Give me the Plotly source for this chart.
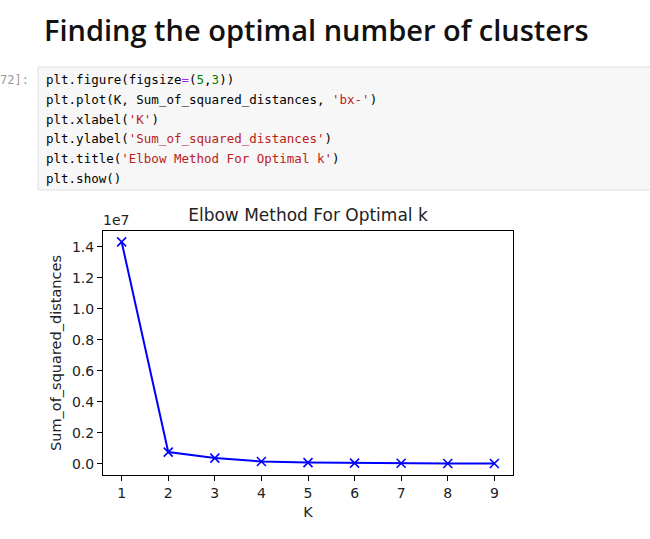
import plotly.graph_objects as go

K = [1, 2, 3, 4, 5, 6, 7, 8, 9]
Sum_of_squared_distances = [14320000, 760000, 370000, 150000, 80000, 50000, 35000, 25000, 20000]
y_tick_vals = [0, 2e6, 4e6, 6e6, 8e6, 10e6, 12e6, 14e6]
y_tick_text = ["0.0", "0.2", "0.4", "0.6", "0.8", "1.0", "1.2", "1.4"]

heading = "Finding the optimal number of clusters"
prompt = "72]:"
code_lines = [
    'plt.figure(figsize<span style="color:#aa22ff">=</span>(<span style="color:#008000">5</span>,<span style="color:#008000">3</span>))',
    'plt.plot(K, Sum_of_squared_distances, <span style="color:#ba2121">\'bx-\'</span>)',
    'plt.xlabel(<span style="color:#ba2121">\'K\'</span>)',
    'plt.ylabel(<span style="color:#ba2121">\'Sum_of_squared_distances\'</span>)',
    'plt.title(<span style="color:#ba2121">\'Elbow Method For Optimal k\'</span>)',
    'plt.show()',
]

W, H = 650, 539
L, R, T, B = 103, 513, 231, 475


def px(x):
    return (x - L) / (R - L)


def py(y):
    return (B - y) / (B - T)


fig = go.Figure()
fig.add_trace(go.Scatter(
    x=K, y=Sum_of_squared_distances, mode="lines+markers",
    line=dict(color="#0000ff", width=2),
    marker=dict(symbol="x-thin", size=9, line=dict(color="#0000ff", width=1.6)),
    showlegend=False,
))

axis_common = dict(
    showline=True, mirror=True, linecolor="black", linewidth=1,
    ticks="outside", ticklen=5, tickwidth=1, tickcolor="black",
    showgrid=False, zeroline=False,
    tickfont=dict(family="DejaVu Sans", size=14, color="#222"),
)

fig.update_layout(
    width=W, height=H,
    margin=dict(l=L, r=W - R, t=T, b=H - B),
    paper_bgcolor="white", plot_bgcolor="white",
    font=dict(family="DejaVu Sans", color="#222"),
    title=dict(text="Elbow Method For Optimal k", x=0.5, xref="paper",
               xanchor="center", y=1 - 215 / H, yanchor="middle", yref="container",
               font=dict(family="DejaVu Sans", size=17, color="#222")),
    xaxis=dict(range=[0.6, 9.4], tickvals=K, ticktext=[str(k) for k in K],
               title=dict(text="K", font=dict(size=14.5), standoff=7), **axis_common),
    yaxis=dict(range=[-0.072e7, 1.502e7], tickvals=y_tick_vals, ticktext=y_tick_text,
               title=dict(text="Sum_of_squared_distances", font=dict(size=14.5), standoff=6),
               **axis_common),
)

# code cell background
fig.add_shape(type="rect", xref="paper", yref="paper",
              x0=px(38), x1=px(652), y0=py(67), y1=py(190),
              fillcolor="#f7f7f7", line=dict(color="#e0e0e0", width=1), layer="below")

# heading
fig.add_annotation(text=heading, xref="paper", yref="paper", x=px(42), y=py(29),
                   xanchor="left", yanchor="middle", showarrow=False,
                   font=dict(family="Open Sans", size=29, color="#111", weight=600))

# prompt
fig.add_annotation(text=prompt, xref="paper", yref="paper", x=px(31), y=py(80),
                   xanchor="right", yanchor="middle", showarrow=False,
                   font=dict(family="DejaVu Sans Mono", size=12, color="#999"))

for i, line in enumerate(code_lines):
    fig.add_annotation(text=line, xref="paper", yref="paper", x=px(44), y=py(80 + i * 19.6),
                       xanchor="left", yanchor="middle", showarrow=False, align="left",
                       font=dict(family="DejaVu Sans Mono", size=12.5, color="#000"))

# offset text
fig.add_annotation(text="1e7", xref="paper", yref="paper", x=0, y=1, xanchor="left",
                   yanchor="bottom", yshift=1, xshift=-2, showarrow=False,
                   font=dict(family="DejaVu Sans", size=14, color="#222"))

fig.write_html("out.html")
